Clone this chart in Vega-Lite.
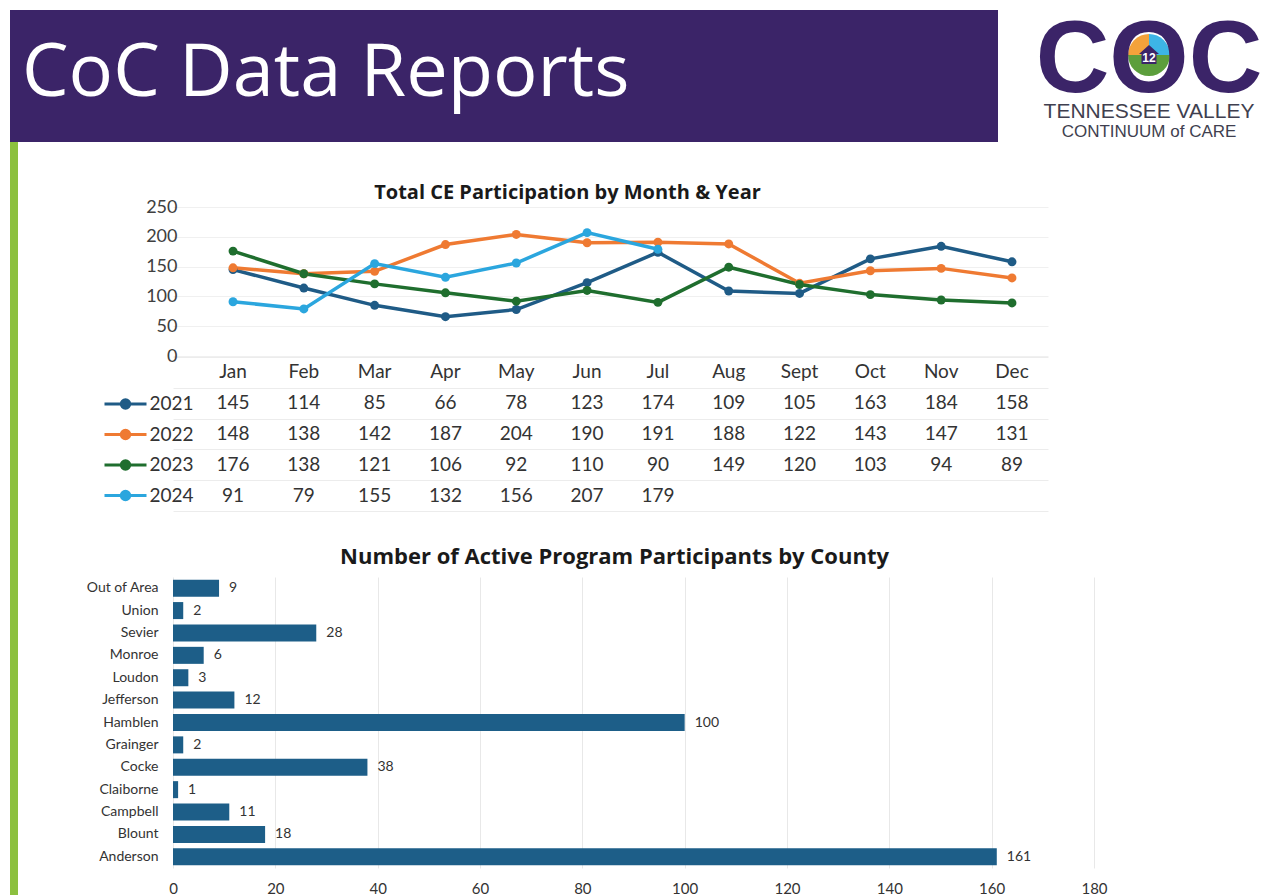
{
  "$schema": "https://vega.github.io/schema/vega-lite/v6.json",
  "background": "white",
  "padding": {"left": 10, "top": 10, "right": 0, "bottom": 0},
  "config": {"view": {"stroke": null}, "font": "Lato", "axis": {"labelFont": "Lato"}, "legend": {"labelFont": "Lato"}},
  "datasets": {
    "ce": [
      {"m": "Jan", "y": "2021", "v": 145}, {"m": "Feb", "y": "2021", "v": 114}, {"m": "Mar", "y": "2021", "v": 85}, {"m": "Apr", "y": "2021", "v": 66}, {"m": "May", "y": "2021", "v": 78}, {"m": "Jun", "y": "2021", "v": 123}, {"m": "Jul", "y": "2021", "v": 174}, {"m": "Aug", "y": "2021", "v": 109}, {"m": "Sept", "y": "2021", "v": 105}, {"m": "Oct", "y": "2021", "v": 163}, {"m": "Nov", "y": "2021", "v": 184}, {"m": "Dec", "y": "2021", "v": 158},
      {"m": "Jan", "y": "2022", "v": 148}, {"m": "Feb", "y": "2022", "v": 138}, {"m": "Mar", "y": "2022", "v": 142}, {"m": "Apr", "y": "2022", "v": 187}, {"m": "May", "y": "2022", "v": 204}, {"m": "Jun", "y": "2022", "v": 190}, {"m": "Jul", "y": "2022", "v": 191}, {"m": "Aug", "y": "2022", "v": 188}, {"m": "Sept", "y": "2022", "v": 122}, {"m": "Oct", "y": "2022", "v": 143}, {"m": "Nov", "y": "2022", "v": 147}, {"m": "Dec", "y": "2022", "v": 131},
      {"m": "Jan", "y": "2023", "v": 176}, {"m": "Feb", "y": "2023", "v": 138}, {"m": "Mar", "y": "2023", "v": 121}, {"m": "Apr", "y": "2023", "v": 106}, {"m": "May", "y": "2023", "v": 92}, {"m": "Jun", "y": "2023", "v": 110}, {"m": "Jul", "y": "2023", "v": 90}, {"m": "Aug", "y": "2023", "v": 149}, {"m": "Sept", "y": "2023", "v": 120}, {"m": "Oct", "y": "2023", "v": 103}, {"m": "Nov", "y": "2023", "v": 94}, {"m": "Dec", "y": "2023", "v": 89},
      {"m": "Jan", "y": "2024", "v": 91}, {"m": "Feb", "y": "2024", "v": 79}, {"m": "Mar", "y": "2024", "v": 155}, {"m": "Apr", "y": "2024", "v": 132}, {"m": "May", "y": "2024", "v": 156}, {"m": "Jun", "y": "2024", "v": 207}, {"m": "Jul", "y": "2024", "v": 179}
    ],
    "county": [
      {"c": "Out of Area", "n": 9}, {"c": "Union", "n": 2}, {"c": "Sevier", "n": 28}, {"c": "Monroe", "n": 6}, {"c": "Loudon", "n": 3}, {"c": "Jefferson", "n": 12}, {"c": "Hamblen", "n": 100}, {"c": "Grainger", "n": 2}, {"c": "Cocke", "n": 38}, {"c": "Claiborne", "n": 1}, {"c": "Campbell", "n": 11}, {"c": "Blount", "n": 18}, {"c": "Anderson", "n": 161}
    ]
  },
  "spacing": 0,
  "resolve": {"scale": {"color": "independent"}, "legend": {"color": "independent"}},
  "vconcat": [
    {
      "spacing": 37,
      "resolve": {"scale": {"color": "independent"}},
      "hconcat": [
        {
          "width": 988, "height": 132,
          "view": {"fill": "#3b2468", "stroke": null},
          "title": {"text": "CoC Data Reports", "orient": "top", "anchor": "start", "frame": "group", "offset": -66, "baseline": "middle", "dx": 12, "dy": 72, "color": "#ffffff", "font": "Open Sans", "fontSize": 74, "fontWeight": 400},
          "data": {"values": []},
          "mark": "point",
          "encoding": {}
        },
        {
          "width": 226, "height": 90,
          "title": {"text": "TENNESSEE VALLEY", "subtitle": "CONTINUUM of CARE", "orient": "bottom", "anchor": "middle", "frame": "group", "offset": 0, "dy": -11, "font": "Liberation Sans", "fontSize": 21, "fontWeight": 400, "color": "#3f3f4f", "subtitleFont": "Liberation Sans", "subtitleFontSize": 17, "subtitleColor": "#3f3f4f", "subtitlePadding": 2},
          "layer": [
            {
              "data": {"values": [{"seg": "b", "k": 1, "v": 1}, {"seg": "g", "k": 2, "v": 2}, {"seg": "o", "k": 3, "v": 1}]},
              "mark": {"type": "arc", "outerRadius": 21},
              "encoding": {
                "theta": {"field": "v", "type": "quantitative", "stack": true},
                "order": {"field": "k", "type": "quantitative"},
                "color": {"field": "seg", "type": "nominal", "scale": {"domain": ["b", "g", "o"], "range": ["#3db5e6", "#5c9e3c", "#f3a23b"]}, "legend": null}
              }
            },
            {
              "data": {"values": [{"t": "COC"}]},
              "mark": {"type": "text", "font": "Liberation Sans", "fontSize": 102, "fontWeight": "bold", "color": "#3b2468", "align": "center", "baseline": "middle", "dy": 6},
              "encoding": {"text": {"field": "t", "type": "nominal"}}
            },
            {
              "data": {"values": [{"t": "12"}]},
              "mark": {"type": "point", "shape": "M-1,-0.1L0,-1L1,-0.1L0.75,-0.1L0.75,0.9L-0.75,0.9L-0.75,-0.1Z", "filled": true, "size": 400, "color": "#3b2468", "opacity": 1},
              "encoding": {}
            },
            {
              "data": {"values": [{"t": "12"}]},
              "mark": {"type": "text", "font": "Liberation Sans", "fontSize": 12, "fontWeight": "bold", "color": "#ffffff", "align": "center", "baseline": "middle", "dy": 3},
              "encoding": {"text": {"field": "t", "type": "nominal"}}
            }
          ]
        }
      ]
    },
    {
      "spacing": 60,
      "resolve": {"scale": {"color": "independent"}},
      "hconcat": [
        {"width": 8, "height": 753, "view": {"fill": "#8cc03f", "stroke": null}, "data": {"values": []}, "mark": "point", "encoding": {}},
        {
          "spacing": 35,
          "vconcat": [
            {"width": 10, "height": 6, "data": {"values": []}, "mark": "point", "encoding": {}},
            {
              "width": 875, "height": 304,
              "title": {"text": "Total CE Participation by Month & Year", "frame": "group", "anchor": "middle", "dx": -43, "dy": 5, "offset": 0, "font": "Open Sans", "fontSize": 20, "fontWeight": "bold", "color": "#1a1a1a"},
              "data": {"name": "ce"},
              "resolve": {"scale": {"y": "independent"}, "axis": {"y": "independent"}},
              "layer": [
                {
                  "encoding": {
                    "x": {"field": "m", "type": "ordinal", "scale": {"type": "point", "padding": 0.678, "align": 0.625, "domain": ["Jan", "Feb", "Mar", "Apr", "May", "Jun", "Jul", "Aug", "Sept", "Oct", "Nov", "Dec"]}, "axis": null},
                    "y": {"field": "v", "type": "quantitative", "scale": {"domain": [0, 250], "range": [149, 0], "nice": false}, "axis": {"title": null, "values": [0, 50, 100, 150, 200, 250], "ticks": false, "domain": false, "grid": true, "gridColor": "#f0f0f0", "labelFontSize": 18, "labelColor": "#404040", "labelPadding": -4, "minExtent": 95}},
                    "color": {
                      "field": "y", "type": "nominal",
                      "scale": {"domain": ["2021", "2022", "2023", "2024"], "range": ["#1f5b86", "#ef7a32", "#1f6e2e", "#2ba6de"]},
                      "legend": {"orient": "none", "legendX": -59.5, "legendY": 250, "title": null, "symbolType": "M-2,0L2,0M-0.4,0A0.4,0.4,0,1,1,0.4,0A0.4,0.4,0,1,1,-0.4,0Z", "symbolSize": 441, "symbolStrokeWidth": 3, "labelFontSize": 19, "labelColor": "#333333", "labelOffset": 12, "rowPadding": 7.5, "padding": 0, "symbolOpacity": 1,
                        "encode": {"symbols": {"update": {"fill": {"scale": "color", "field": "value"}, "stroke": {"scale": "color", "field": "value"}}}}}
                    }
                  },
                  "layer": [
                    {"mark": {"type": "line", "strokeWidth": 3.5}},
                    {"mark": {"type": "point", "filled": true, "size": 80, "opacity": 1}}
                  ]
                },
                {
                  "layer": [
                    {
                      "transform": [{"filter": "datum.y == '2021'"}],
                      "mark": {"type": "text", "fontSize": 19, "color": "#333333"},
                      "encoding": {"x": {"field": "m", "type": "ordinal", "axis": null}, "y": {"datum": "hdr", "type": "ordinal"}, "text": {"field": "m", "type": "nominal"}}
                    },
                    {
                      "mark": {"type": "text", "fontSize": 19, "color": "#333333"},
                      "encoding": {
                        "x": {"field": "m", "type": "ordinal", "axis": null},
                        "y": {"field": "y", "type": "ordinal", "scale": {"type": "band", "domain": ["hdr", "2021", "2022", "2023", "2024"], "range": [150, 304], "paddingInner": 0, "paddingOuter": 0}, "axis": {"orient": "right", "title": null, "labels": false, "ticks": false, "domain": false, "grid": true, "tickBand": "extent", "gridColor": "#ececec"}},
                        "text": {"field": "v", "type": "quantitative"}
                      }
                    }
                  ]
                }
              ]
            },
            {
              "width": 921, "height": 291,
              "title": {"text": "Number of Active Program Participants by County", "frame": "group", "anchor": "middle", "dx": -19, "offset": 8, "font": "Open Sans", "fontSize": 22, "fontWeight": "bold", "color": "#1a1a1a"},
              "data": {"name": "county"},
              "encoding": {
                "y": {"field": "c", "type": "nominal", "scale": {"domain": ["Out of Area", "Union", "Sevier", "Monroe", "Loudon", "Jefferson", "Hamblen", "Grainger", "Cocke", "Claiborne", "Campbell", "Blount", "Anderson"], "paddingInner": 0.24, "paddingOuter": 0.12}, "axis": {"title": null, "ticks": false, "domain": false, "labelFontSize": 14, "labelColor": "#333333", "labelPadding": 15, "minExtent": 95}},
                "x": {"field": "n", "type": "quantitative", "scale": {"domain": [0, 180], "nice": false}, "axis": {"title": null, "values": [0, 20, 40, 60, 80, 100, 120, 140, 160, 180], "ticks": false, "domain": false, "grid": true, "gridColor": "#e8e8e8", "labelFontSize": 15, "labelPadding": 13, "labelColor": "#333333", "labelFlush": false, "labelOverlap": false}}
              },
              "layer": [
                {"mark": {"type": "bar", "color": "#1d5e88"}},
                {"mark": {"type": "text", "align": "left", "dx": 10, "fontSize": 14, "color": "#333333"}, "encoding": {"text": {"field": "n", "type": "quantitative"}}}
              ]
            }
          ]
        }
      ]
    }
  ]
}
